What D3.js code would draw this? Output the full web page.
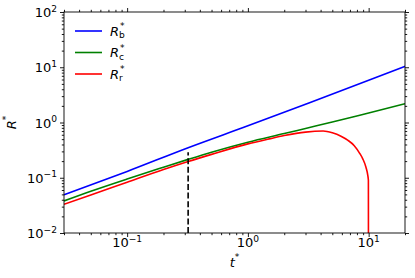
<!DOCTYPE html>
<html>
<head>
<meta charset="utf-8">
<script src="https://cdn.jsdelivr.net/npm/d3@7/dist/d3.min.js"></script>
<style>
  html, body { margin: 0; padding: 0; background: #fff; }
  svg { display: block; font-family: "DejaVu Sans", sans-serif; }
</style>
</head>
<body>
<svg width="415" height="278"></svg>
<script>
// Data
const tDomain = [0.03, 20];
const rDomain = [0.01, 100];
const tMajorTicks = [0.1, 1, 10];
const rMajorTicks = [0.01, 0.1, 1, 10, 100];

const tBlue = [0.03, 0.1, 0.32, 1, 3.2, 10, 20];
const rBlue = [0.049, 0.13, 0.35, 0.87, 2.25, 5.8, 10.4];

const tGreen = [0.03, 0.05, 0.1, 0.2, 0.32, 0.5, 1, 2, 3, 5, 10, 20];
const rGreen = [0.038, 0.057, 0.095, 0.155, 0.215, 0.29, 0.44, 0.63, 0.78, 1.02, 1.49, 2.18];

const tRed = [0.03, 0.05, 0.1, 0.2, 0.32, 0.5, 1, 1.5, 2, 3, 4.2, 5, 5.9, 6.7, 7.6, 8.4, 8.94, 9.5, 9.84, 9.95, 9.97];
const rRed = [0.033, 0.0486, 0.083, 0.141, 0.197, 0.265, 0.41, 0.505, 0.58, 0.67, 0.70, 0.65, 0.565, 0.48, 0.38, 0.28, 0.22, 0.155, 0.11, 0.09, 0.001];

const dashT = [0.32, 0.32];
const dashR = [0.01, 0.29];

const legendSubs = ["b", "c", "r"];
const colors = ["#0000ff", "#008000", "#ff0000"];

const svg = d3.select("svg");
const attr_area = {
    width: 415,
    height: 278,
    left: 64,
    top: 12,
    right: 10,
    bottom: 45
};
const fontSize = 13;

const scX = d3.scaleLog().domain(tDomain)
    .range([attr_area.left, attr_area.width - attr_area.right]);
const scY = d3.scaleLog().domain(rDomain)
    .range([attr_area.height - attr_area.bottom, attr_area.top]);

// minor ticks 2..9 for each decade inside the domain
function minorTicks(domain) {
    let res = [];
    for (let k = -3; k <= 3; k++) {
        for (let m = 2; m <= 9; m++) {
            const v = m * Math.pow(10, k);
            if (v >= domain[0] && v <= domain[1]) res.push(v);
        }
    }
    return res;
}

function toPoints(ts, rs) {
    return ts.map((t, i) => ({ t: t, r: rs[i] }));
}

// clip for the curves
svg.append("clipPath").attr("id", "plot-clip")
   .append("rect")
   .attr("x", scX.range()[0]).attr("y", scY.range()[1])
   .attr("width", scX.range()[1] - scX.range()[0])
   .attr("height", scY.range()[0] - scY.range()[1]);

const plot = svg.append("g").attr("clip-path", "url(#plot-clip)");

function drawLine(points, color, curve) {
    const lineGen = d3.line()
        .x(d => scX(d.t))
        .y(d => scY(d.r))
        .curve(curve);
    plot.append("path")
        .datum(points)
        .attr("fill", "none")
        .attr("stroke", color)
        .attr("stroke-width", 1.6)
        .attr("d", lineGen);
}

drawLine(toPoints(tBlue, rBlue), colors[0], d3.curveMonotoneX);
drawLine(toPoints(tGreen, rGreen), colors[1], d3.curveMonotoneX);
drawLine(toPoints(tRed, rRed), colors[2], d3.curveMonotoneX);

// vertical dashed line
plot.append("path")
    .datum(toPoints(dashT, dashR))
    .attr("fill", "none")
    .attr("stroke", "#000")
    .attr("stroke-width", 1.6)
    .attr("stroke-dasharray", "6,2.6")
    .attr("d", d3.line().x(d => scX(d.t)).y(d => scY(d.r)));

// axes (ticks outward on all four sides)
const x0 = scX.range()[0], x1 = scX.range()[1];
const y0 = scY.range()[0], y1 = scY.range()[1];

function addAxis(axis, tx, ty) {
    const g = svg.append("g")
        .attr("transform", `translate(${tx}, ${ty})`)
        .call(axis);
    g.select(".domain").remove();
    g.selectAll("line").attr("stroke", "#000").attr("stroke-width", 0.9);
    return g;
}

const tMinor = minorTicks(tDomain);
const rMinor = minorTicks(rDomain);

addAxis(d3.axisBottom(scX).tickValues(tMajorTicks).tickSize(4).tickFormat(""), 0, y0);
addAxis(d3.axisBottom(scX).tickValues(tMinor).tickSize(2.2).tickFormat(""), 0, y0);
addAxis(d3.axisTop(scX).tickValues(tMajorTicks).tickSize(4).tickFormat(""), 0, y1);
addAxis(d3.axisTop(scX).tickValues(tMinor).tickSize(2.2).tickFormat(""), 0, y1);
addAxis(d3.axisLeft(scY).tickValues(rMajorTicks).tickSize(4).tickFormat(""), x0, 0);
addAxis(d3.axisLeft(scY).tickValues(rMinor).tickSize(2.2).tickFormat(""), x0, 0);
addAxis(d3.axisRight(scY).tickValues(rMajorTicks).tickSize(4).tickFormat(""), x1, 0);
addAxis(d3.axisRight(scY).tickValues(rMinor).tickSize(2.2).tickFormat(""), x1, 0);

// frame
svg.append("rect")
    .attr("x", x0).attr("y", y1)
    .attr("width", x1 - x0).attr("height", y0 - y1)
    .attr("fill", "none")
    .attr("stroke", "#000")
    .attr("stroke-width", 0.9);

// tick labels "10^k"
function powerLabel(sel, v) {
    const k = Math.round(Math.log10(v));
    sel.append("tspan").text("10");
    sel.append("tspan")
        .attr("dy", -fontSize * 0.42)
        .attr("font-size", fontSize * 0.7)
        .text(k < 0 ? "\u2212" + (-k) : String(k));
}

tMajorTicks.forEach(v => {
    const txt = svg.append("text")
        .attr("x", scX(v))
        .attr("y", y0 + 14)
        .attr("text-anchor", "middle")
        .attr("font-size", fontSize);
    powerLabel(txt, v);
});

rMajorTicks.forEach(v => {
    const txt = svg.append("text")
        .attr("x", x0 - 7)
        .attr("y", scY(v) + 5)
        .attr("text-anchor", "end")
        .attr("font-size", fontSize);
    powerLabel(txt, v);
});

// axis titles
const xTitle = svg.append("text")
    .attr("x", (x0 + x1) / 2)
    .attr("y", 267)
    .attr("text-anchor", "middle")
    .attr("font-size", fontSize);
xTitle.append("tspan").attr("font-style", "italic").text("t");
xTitle.append("tspan").attr("dy", -fontSize * 0.55).attr("font-size", fontSize * 0.7).text("*");

const yTitle = svg.append("text")
    .attr("transform", `translate(16, ${(y0 + y1) / 2}) rotate(-90)`)
    .attr("text-anchor", "middle")
    .attr("font-size", fontSize);
yTitle.append("tspan").attr("font-style", "italic").text("R");
yTitle.append("tspan").attr("dy", -fontSize * 0.55).attr("font-size", fontSize * 0.7).text("*");

// legend: R with stacked subscript and superscript in one text
const legendY = [31, 52.5, 74];
legendSubs.forEach((s, i) => {
    const ly = legendY[i];
    svg.append("line")
        .attr("x1", 75).attr("x2", 102)
        .attr("y1", ly).attr("y2", ly)
        .attr("stroke", colors[i])
        .attr("stroke-width", 1.6);
    const txt = svg.append("text")
        .attr("x", 110)
        .attr("y", ly + 4.5)
        .attr("font-size", fontSize);
    txt.append("tspan").attr("font-style", "italic").text("R");
    const w = txt.node().getComputedTextLength();
    txt.append("tspan")
        .attr("dy", 2.5)
        .attr("font-size", fontSize * 0.7)
        .text(s);
    txt.append("tspan")
        .attr("x", 110 + w + 1)
        .attr("dy", -9)
        .attr("font-size", fontSize * 0.7)
        .text("*");
});
</script>
</body>
</html>
